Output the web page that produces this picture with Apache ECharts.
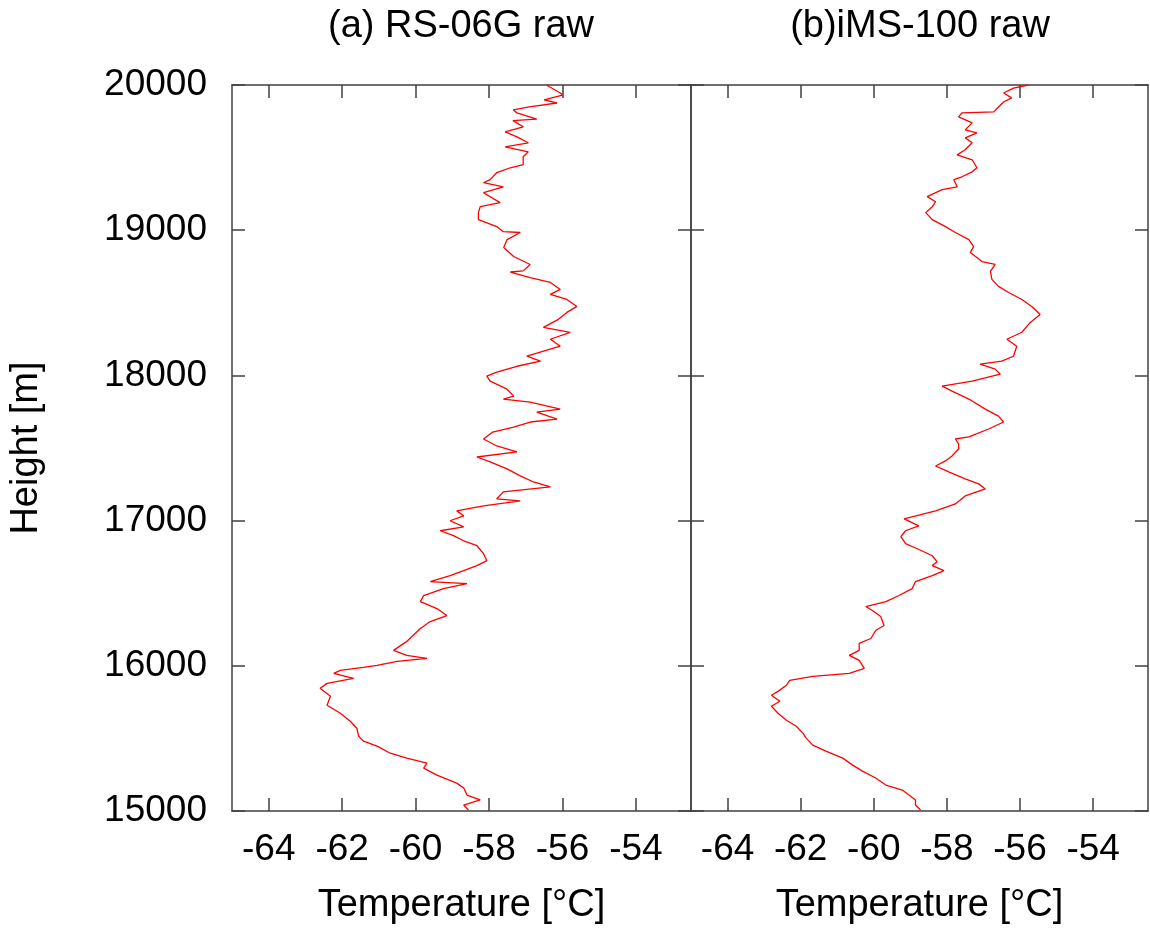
<!DOCTYPE html>
<html><head><meta charset="utf-8">
<script src="https://cdn.jsdelivr.net/npm/echarts@6/dist/echarts.min.js"></script>
<style>html,body{margin:0;padding:0;background:#fff}#c{width:1150px;height:930px}</style>
</head><body><div id="c"></div>
<script>
// ---- data ----
const panelTitles = ['(a) RS-06G raw', '(b)iMS-100 raw'];
const xAxisName = 'Temperature [°C]';
const yAxisName = 'Height [m]';
const tempTicks = [-64, -62, -60, -58, -56, -54];
const heightTicks = [15000, 16000, 17000, 18000, 19000, 20000];

const rsHeight = [20000,19945,19931,19897,19876,19849,19828,19808,19765,19755,19712,19677,19643,19602,19574,19540,19506,19451,19430,19396,19348,19327,19299,19258,19190,19162,19121,19073,19025,18990,18984,18935,18881,18819,18764,18720,18712,18674,18640,18592,18558,18523,18475,18434,18386,18331,18297,18249,18201,18132,18098,18063,18022,17995,17960,17905,17857,17837,17816,17768,17747,17699,17679,17644,17610,17562,17514,17473,17438,17404,17356,17308,17266,17232,17198,17150,17136,17102,17067,17033,16999,16957,16930,16896,16861,16827,16772,16724,16690,16655,16621,16580,16566,16532,16484,16442,16394,16346,16305,16257,16202,16168,16106,16072,16051,16031,16003,15989,15969,15948,15913,15879,15845,15790,15728,15673,15618,15570,15515,15481,15447,15398,15364,15330,15295,15247,15192,15158,15110,15076,15041,15007];
const rsTemp = [-56.44,-56.06,-56.0,-56.5,-56.15,-56.9,-57.34,-57.24,-56.7,-57.35,-57.07,-57.56,-57.24,-56.93,-57.56,-56.93,-57.07,-57.07,-57.42,-57.79,-57.97,-58.15,-57.61,-58.15,-57.7,-58.24,-58.29,-58.29,-57.79,-57.61,-57.15,-57.51,-57.6,-57.33,-56.88,-57.07,-57.42,-56.88,-56.33,-56.06,-56.33,-55.88,-55.61,-55.88,-56.11,-56.52,-55.79,-56.33,-56.06,-56.97,-56.6,-57.24,-57.79,-58.06,-57.97,-57.51,-57.33,-57.61,-56.88,-56.06,-56.7,-56.15,-56.88,-57.33,-57.9,-58.15,-57.79,-57.24,-58.33,-57.97,-57.51,-57.15,-56.79,-56.33,-57.61,-57.79,-57.15,-58.15,-58.88,-58.69,-59.06,-58.69,-59.33,-58.97,-58.69,-58.33,-58.15,-58.06,-58.33,-58.69,-59.06,-59.6,-58.6,-59.24,-59.78,-59.87,-59.42,-59.15,-59.6,-59.87,-60.1,-60.24,-60.6,-60.24,-59.69,-60.5,-61.05,-61.42,-62.05,-62.23,-61.69,-62.41,-62.6,-62.32,-62.41,-62.05,-61.78,-61.6,-61.55,-61.42,-61.05,-60.69,-60.24,-59.69,-59.78,-59.42,-58.88,-58.69,-58.6,-58.24,-58.69,-58.56];

const imsHeight = [20000,19979,19945,19911,19883,19849,19815,19808,19780,19739,19691,19670,19636,19602,19554,19519,19485,19430,19402,19368,19348,19299,19279,19231,19196,19162,19121,19073,19025,18984,18935,18887,18846,18784,18764,18716,18661,18613,18571,18523,18475,18420,18365,18297,18249,18201,18132,18098,18077,18043,18008,17960,17926,17919,17892,17837,17768,17720,17679,17631,17576,17562,17528,17493,17445,17411,17376,17335,17287,17253,17218,17170,17115,17067,17012,16964,16930,16889,16841,16806,16758,16717,16690,16655,16621,16580,16532,16484,16442,16408,16381,16339,16278,16243,16188,16154,16106,16072,16037,15982,15948,15927,15900,15866,15824,15797,15756,15721,15673,15625,15584,15536,15502,15454,15412,15364,15316,15275,15227,15179,15144,15110,15076,15041,15007];
const imsTemp = [-55.77,-56.18,-56.45,-56.23,-56.45,-56.59,-56.72,-57.59,-57.68,-57.31,-57.5,-57.18,-57.5,-57.31,-57.5,-57.72,-57.31,-57.18,-57.31,-57.59,-57.81,-57.72,-58.13,-58.54,-58.31,-58.4,-58.58,-58.4,-58.04,-57.77,-57.4,-57.27,-57.36,-57.04,-56.68,-56.81,-56.77,-56.59,-56.31,-55.95,-55.68,-55.45,-55.72,-55.95,-56.36,-56.09,-56.18,-56.5,-57.09,-56.68,-56.54,-57.31,-58.13,-58.17,-57.86,-57.4,-56.95,-56.59,-56.45,-56.86,-57.4,-57.77,-57.68,-57.68,-57.86,-58.04,-58.31,-57.95,-57.5,-57.13,-56.95,-57.5,-57.77,-58.31,-59.17,-58.77,-59.13,-59.26,-59.13,-58.81,-58.4,-58.27,-58.4,-58.08,-58.4,-58.86,-58.95,-59.31,-59.67,-60.22,-60.04,-59.81,-59.72,-59.95,-60.08,-60.4,-60.4,-60.67,-60.4,-60.26,-60.67,-61.67,-62.3,-62.39,-62.62,-62.8,-62.57,-62.8,-62.62,-62.39,-62.12,-61.94,-61.85,-61.67,-61.31,-60.85,-60.58,-60.31,-59.95,-59.67,-59.22,-59.04,-58.86,-58.86,-58.72];

// ---- chart ----
const FONT = '"Liberation Sans", Arial, Helvetica, sans-serif';
const lineStyle = { color: '#404040', width: 1.5 };
const tMin = -65, tMax = -52.5;
const plain = v => String(v);

function xAxesFor(gi) {
  return [
    { type: 'value', gridIndex: gi, position: 'bottom', min: tMin, max: tMax,
      axisLine: { show: true, onZero: false, lineStyle },
      axisTick: { show: true, inside: true, length: 13, customValues: tempTicks, lineStyle },
      axisLabel: { customValues: tempTicks, formatter: plain, fontSize: 37, color: '#000', margin: 20, fontFamily: FONT },
      splitLine: { show: false },
      name: xAxisName, nameLocation: 'middle', nameGap: 76,
      nameTextStyle: { fontSize: 38, color: '#000', fontFamily: FONT } },
    { type: 'value', gridIndex: gi, position: 'top', min: tMin, max: tMax,
      axisLine: { show: true, onZero: false, lineStyle },
      axisTick: { show: true, inside: true, length: 13, customValues: tempTicks, lineStyle },
      axisLabel: { show: false }, splitLine: { show: false } }
  ];
}
function yAxesFor(gi, withLabels) {
  return [
    { type: 'value', gridIndex: gi, position: 'left', min: heightTicks[0], max: heightTicks[heightTicks.length-1], interval: 1000,
      axisLine: { show: true, onZero: false, lineStyle },
      axisTick: { show: true, inside: true, length: 13, lineStyle },
      axisLabel: { show: withLabels, formatter: plain, fontSize: 37, color: '#000', margin: 25, fontFamily: FONT },
      splitLine: { show: false },
      name: withLabels ? yAxisName : '', nameLocation: 'middle', nameGap: 186, nameRotate: 90,
      nameTextStyle: { fontSize: 38, color: '#000', fontFamily: FONT } },
    { type: 'value', gridIndex: gi, position: 'right', min: heightTicks[0], max: heightTicks[heightTicks.length-1], interval: 1000,
      axisLine: { show: true, onZero: false, lineStyle },
      axisTick: { show: true, inside: true, length: 13, lineStyle },
      axisLabel: { show: false }, splitLine: { show: false } }
  ];
}

const rsData = rsTemp.map((t, i) => [t, rsHeight[i]]);
const imsData = imsTemp.map((t, i) => [t, imsHeight[i]]);

const option = {
  animation: false,
  backgroundColor: '#fff',
  grid: [
    { left: 232, top: 85, width: 459, height: 728, containLabel: false },
    { left: 691, top: 85, width: 457, height: 728, containLabel: false }
  ],
  xAxis: [...xAxesFor(0), ...xAxesFor(1)],
  yAxis: [...yAxesFor(0, true), ...yAxesFor(1, false)],
  graphic: [
    { type: 'text', x: 461, y: 27, style: { text: panelTitles[0], font: '38px ' + FONT, fill: '#000', textAlign: 'center', textVerticalAlign: 'middle' } },
    { type: 'text', x: 920, y: 27, style: { text: panelTitles[1], font: '38px ' + FONT, fill: '#000', textAlign: 'center', textVerticalAlign: 'middle' } }
  ],
  series: [
    { type: 'line', name: 'RS-06G', xAxisIndex: 0, yAxisIndex: 0, data: rsData, showSymbol: false, symbol: 'none',
      lineStyle: { color: '#ff0000', width: 1.3 }, clip: true },
    { type: 'line', name: 'iMS-100', xAxisIndex: 2, yAxisIndex: 2, data: imsData, showSymbol: false, symbol: 'none',
      lineStyle: { color: '#ff0000', width: 1.3 }, clip: true }
  ]
};
const chart = echarts.init(document.getElementById('c'));
chart.setOption(option);
</script></body></html>
